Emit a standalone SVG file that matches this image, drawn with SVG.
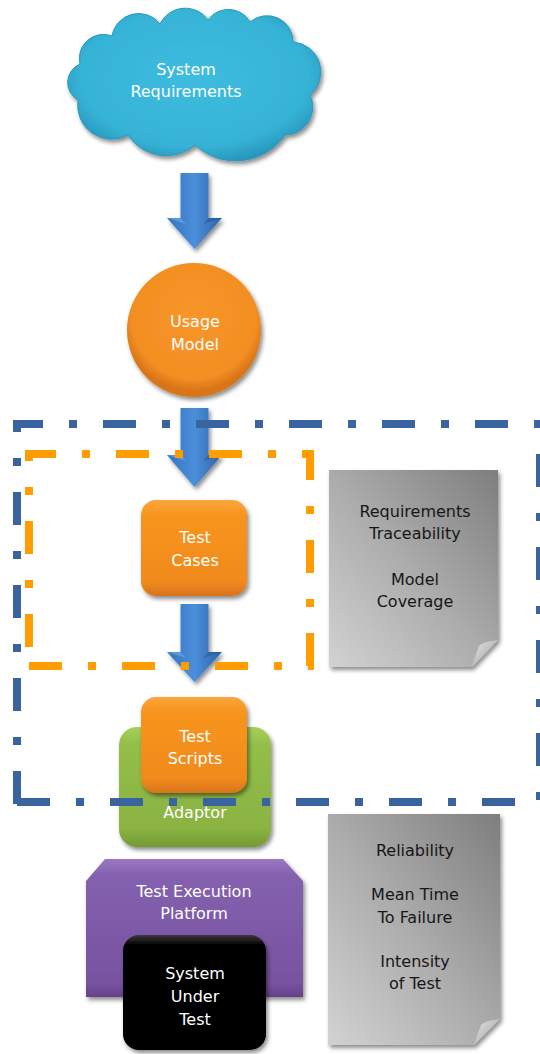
<svg xmlns="http://www.w3.org/2000/svg" width="540" height="1054" viewBox="0 0 540 1054">
<defs>
<filter id="sh" x="-20%" y="-20%" width="140%" height="140%"><feDropShadow dx="2" dy="3" stdDeviation="2" flood-color="#000" flood-opacity="0.45"/></filter>
<radialGradient id="gCloud" cx="50%" cy="45%" r="60%"><stop offset="0" stop-color="#3DBCDF"/><stop offset="0.75" stop-color="#36B3D6"/><stop offset="1" stop-color="#2590B5"/></radialGradient>
<linearGradient id="gOr" x1="0" y1="0" x2="0" y2="1"><stop offset="0" stop-color="#FBA63C"/><stop offset="0.15" stop-color="#F8951F"/><stop offset="0.85" stop-color="#F08A1E"/><stop offset="1" stop-color="#D8731A"/></linearGradient>
<radialGradient id="gCirc" cx="50%" cy="40%" r="55%"><stop offset="0" stop-color="#F8962A"/><stop offset="0.85" stop-color="#F38E22"/><stop offset="1" stop-color="#D87519"/></radialGradient>
<linearGradient id="gGr" x1="0" y1="0" x2="0" y2="1"><stop offset="0" stop-color="#A6CF5C"/><stop offset="0.15" stop-color="#93BE48"/><stop offset="0.85" stop-color="#8AB342"/><stop offset="1" stop-color="#739A34"/></linearGradient>
<linearGradient id="gPu" x1="0" y1="0" x2="0" y2="1"><stop offset="0" stop-color="#9A78C2"/><stop offset="0.12" stop-color="#8461AE"/><stop offset="0.9" stop-color="#7752A0"/><stop offset="1" stop-color="#654289"/></linearGradient>
<linearGradient id="gBk" x1="0" y1="0" x2="0" y2="1"><stop offset="0" stop-color="#3a3a3a"/><stop offset="0.08" stop-color="#050505"/><stop offset="1" stop-color="#000"/></linearGradient>
<linearGradient id="gDoc" x1="1" y1="0" x2="0" y2="1"><stop offset="0" stop-color="#7E7E7E"/><stop offset="0.5" stop-color="#ABABAB"/><stop offset="1" stop-color="#D2D2D2"/></linearGradient>
<linearGradient id="gFold" x1="0" y1="0" x2="1" y2="1"><stop offset="0" stop-color="#E6E6E6"/><stop offset="1" stop-color="#9A9A9A"/></linearGradient>
<linearGradient id="gAr" x1="0" y1="0" x2="1" y2="0"><stop offset="0" stop-color="#3572C0"/><stop offset="0.5" stop-color="#4C8FDB"/><stop offset="1" stop-color="#2E63A8"/></linearGradient>
<style>
.tw{font-family:"DejaVu Sans",Verdana,sans-serif;font-size:16px;fill:#fff;text-anchor:middle}
.tk{font-family:"DejaVu Sans",Verdana,sans-serif;font-size:16px;fill:#161616;text-anchor:middle}
.bl{stroke:#3A64A0;stroke-width:8;fill:none;stroke-dasharray:33 26 8 26}
.ol{stroke:#FF9C00;stroke-width:8;fill:none;stroke-dasharray:33 26 8 26}
.arr{fill:url(#gAr);filter:url(#sh)}
.hl{fill:#6FA8EA;opacity:0.6}
.dk{fill:#1F4F8F;opacity:0.45}
</style>
</defs>

<g id="system-requirements">
<path filter="url(#sh)" fill="url(#gCloud)" stroke="#2A98BD" stroke-width="1" d="M80,64 A24,24 0 0 1 112,36 A27,27 0 0 1 160,24 A28,28 0 0 1 208,20 A25,25 0 0 1 250,22 A26,26 0 0 1 293,42 A30,30 0 0 1 310,95 A28,28 0 0 1 285,135 A60,60 0 0 1 195,145 A45,45 0 0 1 128,135 A34,34 0 0 1 78,100 A20,20 0 0 1 80,64 Z"/>
<text class="tw" x="186" y="75">System</text>
<text class="tw" x="186" y="97">Requirements</text>
</g>

<g id="connectors">
<path class="arr" d="M180.5,173 H208.5 V218 H222 L194.5,249 L167,218 H180.5 Z"/>
<path class="hl" d="M167,218 H180.5 L186,224 Z"/>
<path class="dk" d="M222,218 H208.5 L203,224 Z"/>
<path class="arr" d="M180.5,408 H208.5 V455 H222 L194.5,487 L167,455 H180.5 Z"/>
<path class="hl" d="M167,455 H180.5 L186,461 Z"/>
<path class="dk" d="M222,455 H208.5 L203,461 Z"/>
<path class="arr" d="M180.5,604 H208.5 V652 H222 L194.5,682 L167,652 H180.5 Z"/>
<path class="hl" d="M167,652 H180.5 L186,658 Z"/>
<path class="dk" d="M222,652 H208.5 L203,658 Z"/>
</g>

<g id="usage-model">
<circle cx="194" cy="330" r="67" fill="url(#gCirc)" filter="url(#sh)"/>
<text class="tw" x="195" y="327">Usage</text>
<text class="tw" x="195" y="350">Model</text>
</g>

<g id="test-cases">
<rect x="141" y="500" width="106" height="96" rx="15" fill="url(#gOr)" filter="url(#sh)"/>
<text class="tw" x="195" y="543">Test</text>
<text class="tw" x="195" y="566">Cases</text>
</g>

<g id="adaptor">
<rect x="119" y="727" width="152" height="120" rx="18" fill="url(#gGr)" filter="url(#sh)"/>
<text class="tw" x="195" y="818">Adaptor</text>
</g>

<g id="test-scripts">
<rect x="141" y="697" width="106" height="96" rx="15" fill="url(#gOr)" filter="url(#sh)"/>
<text class="tw" x="195" y="742">Test</text>
<text class="tw" x="195" y="764">Scripts</text>
</g>

<g id="test-execution-platform">
<path d="M105,859 H283 L303,881 V997 H86 V881 Z" fill="url(#gPu)" filter="url(#sh)"/>
<text class="tw" x="194" y="897">Test Execution</text>
<text class="tw" x="194" y="919">Platform</text>
</g>

<g id="system-under-test">
<rect x="123" y="935" width="143" height="115" rx="16" fill="url(#gBk)" filter="url(#sh)"/>
<text class="tw" x="195" y="979">System</text>
<text class="tw" x="195" y="1002">Under</text>
<text class="tw" x="195" y="1025">Test</text>
</g>

<g id="doc-requirements">
<path d="M329,470 H498 V640 L472,667 H329 Z" fill="url(#gDoc)" filter="url(#sh)"/>
<path d="M498,640 Q482,642 479,646 Q475,656 472,667 Z" fill="url(#gFold)"/>
<text class="tk" x="415" y="517">Requirements</text>
<text class="tk" x="415" y="539">Traceability</text>
<text class="tk" x="415" y="585">Model</text>
<text class="tk" x="415" y="607">Coverage</text>
</g>

<g id="doc-reliability">
<path d="M328,814 H500 V1019 L474,1045 H328 Z" fill="url(#gDoc)" filter="url(#sh)"/>
<path d="M500,1019 Q484,1021 481,1025 Q477,1035 474,1045 Z" fill="url(#gFold)"/>
<text class="tk" x="415" y="856">Reliability</text>
<text class="tk" x="415" y="900">Mean Time</text>
<text class="tk" x="415" y="923">To Failure</text>
<text class="tk" x="415" y="967">Intensity</text>
<text class="tk" x="415" y="989">of Test</text>
</g>

<g id="frames">
<line class="bl" x1="13" y1="424" x2="545" y2="424" stroke-dashoffset="3"/>
<line class="bl" x1="17" y1="424" x2="17" y2="806" stroke-dashoffset="25"/>
<line class="bl" x1="17" y1="802" x2="545" y2="802" stroke-dashoffset="0"/>
<line class="bl" x1="540" y1="424" x2="540" y2="806" stroke-dashoffset="63"/>
<line class="ol" x1="25" y1="454" x2="314" y2="454" stroke-dashoffset="2"/>
<line class="ol" x1="29" y1="454" x2="29" y2="670" stroke-dashoffset="26"/>
<line class="ol" x1="29" y1="666" x2="314" y2="666" stroke-dashoffset="0"/>
<line class="ol" x1="310" y1="454" x2="310" y2="670" stroke-dashoffset="7"/>
</g>
</svg>
